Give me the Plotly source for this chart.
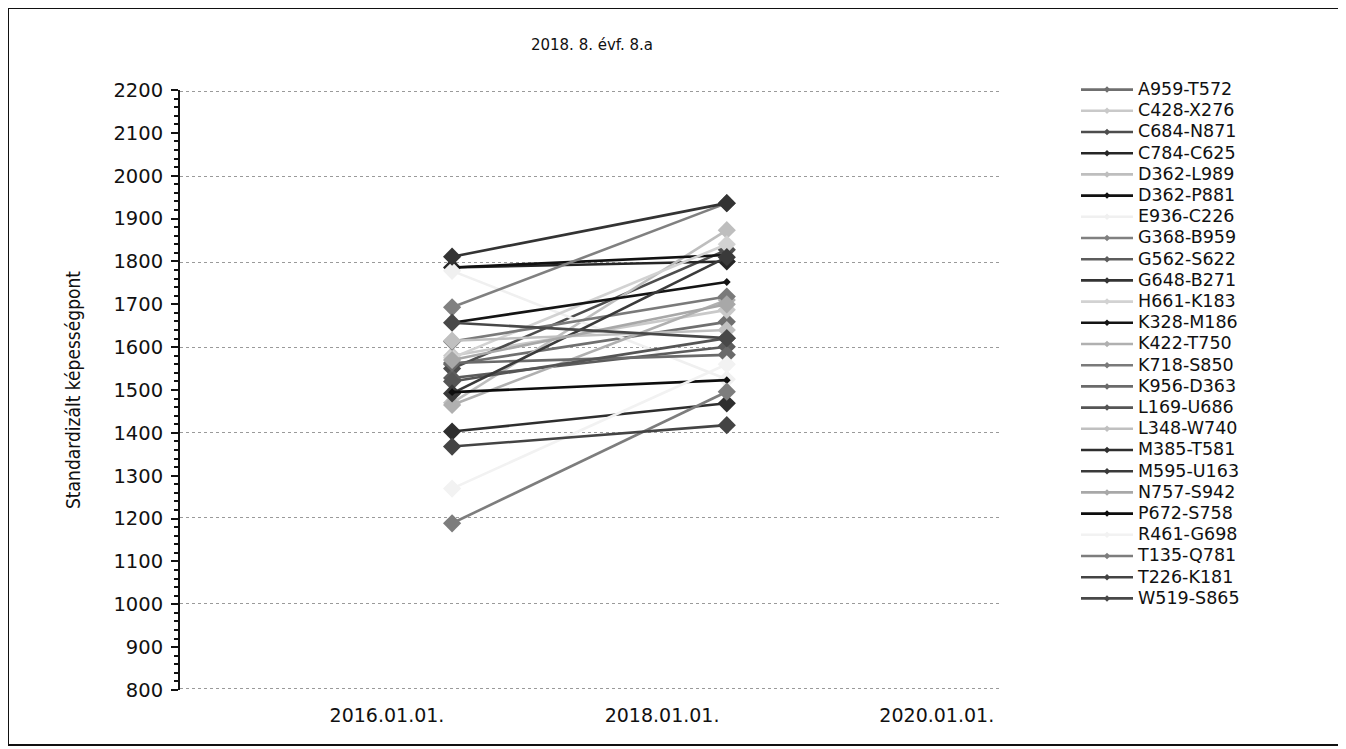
import plotly.graph_objects as go

title_text = "2018. 8. évf. 8.a"
y_title = "Standardizált képességpont"
dates = ["2016-06-22", "2018-06-22"]
x_tick_vals = ["2016-01-01", "2018-01-01", "2020-01-01"]
x_tick_text = ["2016.01.01.", "2018.01.01.", "2020.01.01."]

names = ["A959-T572", "C428-X276", "C684-N871", "C784-C625", "D362-L989",
         "D362-P881", "E936-C226", "G368-B959", "G562-S622", "G648-B271",
         "H661-K183", "K328-M186", "K422-T750", "K718-S850", "K956-D363",
         "L169-U686", "L348-W740", "M385-T581", "M595-U163", "N757-S942",
         "P672-S758", "R461-G698", "T135-Q781", "T226-K181", "W519-S865"]
colors = ["#6f6f6f", "#c9c9c9", "#4d4d4d", "#262626", "#bebebe",
          "#111111", "#f0f0f0", "#808080", "#5c5c5c", "#333333",
          "#d2d2d2", "#141414", "#b0b0b0", "#7a7a7a", "#6a6a6a",
          "#555555", "#c0c0c0", "#2e2e2e", "#3a3a3a", "#a8a8a8",
          "#0d0d0d", "#f2f2f2", "#7d7d7d", "#444444", "#484848"]
small_marker = [False, False, False, False, False,
                True, False, False, False, False,
                False, True, False, False, False,
                False, False, False, False, False,
                True, False, False, False, False]
score_2016 = [1560, 1580, 1550, 1786, 1470,
              1786, 1778, 1693, 1528, 1811,
              1575, 1657, 1465, 1613, 1563,
              1520, 1615, 1403, 1492, 1570,
              1495, 1270, 1189, 1368, 1657]
score_2018 = [1659, 1687, 1827, 1800, 1873,
              1815, 1525, 1936, 1601, 1936,
              1840, 1752, 1710, 1718, 1582,
              1621, 1640, 1469, 1810, 1700,
              1523, 1560, 1496, 1418, 1621]

FONT = "DejaVu Sans, Verdana, sans-serif"

fig = go.Figure()
for i, n in enumerate(names):
    fig.add_trace(go.Scatter(
        x=dates, y=[score_2016[i], score_2018[i]], mode="lines+markers",
        name=n, legendgroup=n, showlegend=False,
        line=dict(color=colors[i], width=2.6),
        marker=dict(symbol="diamond", size=6 if small_marker[i] else 14,
                    color=colors[i]),
        hovertemplate=n + ": %{y}<extra></extra>"))
# legend entries (small markers, as in the original legend)
for i, n in enumerate(names):
    fig.add_trace(go.Scatter(
        x=[None], y=[None], mode="lines+markers", yaxis="y2",
        name='<span style="font-size:17.5px">' + n + '</span>',
        legendgroup=n, showlegend=True,
        line=dict(color=colors[i], width=2.6),
        marker=dict(symbol="diamond", size=5, color=colors[i])))

# page is shown with an 8px body margin -> screen = figure + 8
OFF = 8
W, H = 1346, 749
L, T = 180 - OFF, 90 - OFF
PW, PH = 820, 600
R = W - L - PW
B = H - T - PH

def px_x(p):
    return (p - OFF - L) / PW

def px_y(p):
    return (T + PH - (p - OFF)) / PH

fig.update_layout(
    width=W, height=H,
    margin=dict(l=L, r=R, t=T, b=B, pad=0),
    paper_bgcolor="white", plot_bgcolor="white",
    font=dict(family=FONT, color="#111111"),
    title=dict(text=title_text, xref="container", x=(592 - OFF) / W,
               xanchor="center", yref="container",
               y=1 - (45 - OFF) / H, yanchor="middle",
               font=dict(size=15, family=FONT, color="#111111")),
    xaxis=dict(type="date", range=["2014-06-30", "2020-06-17"],
               tickvals=x_tick_vals, ticktext=x_tick_text,
               showgrid=False, zeroline=False, showline=False, ticks="",
               ticklabelstandoff=12,
               tickfont=dict(size=19, family=FONT, color="#111111")),
    yaxis=dict(range=[800, 2200], dtick=100, tick0=800,
               showgrid=False, zeroline=False,
               showline=True, linecolor="#111111", linewidth=2,
               ticks="outside", ticklen=7, tickwidth=2, tickcolor="#111111",
               minor=dict(dtick=20, ticks="outside", ticklen=4, tickwidth=1.5,
                          tickcolor="#111111", showgrid=False),
               ticklabelstandoff=4,
               tickfont=dict(size=19.5, family=FONT, color="#111111"),
               title=dict(text=y_title, standoff=28,
                          font=dict(size=19, color="#111111",
                                    family="Liberation Sans Narrow, DejaVu Sans Condensed, sans-serif"))),
    # grid every 200 (slightly padded range so the edge lines at 800/2200 are kept)
    yaxis2=dict(range=[796.5, 2203.5], dtick=200, tick0=800,
                overlaying="y", anchor="x",
                showgrid=True, gridcolor="#9a9a9a", griddash="dot", gridwidth=1,
                showticklabels=False, ticks="", showline=False, zeroline=False),
    legend=dict(x=px_x(1076), xanchor="left", y=px_y(614), yanchor="bottom",
                font=dict(size=14, family=FONT, color="#111111"),
                bgcolor="rgba(0,0,0,0)", borderwidth=0, tracegroupgap=0,
                itemwidth=52),
    shapes=[dict(type="rect", xref="paper", yref="paper",
                 x0=px_x(8), x1=px_x(1342), y0=px_y(745), y1=px_y(8),
                 line=dict(color="#111111", width=2), layer="below")],
    showlegend=True,
)

fig.write_html("out.html")
